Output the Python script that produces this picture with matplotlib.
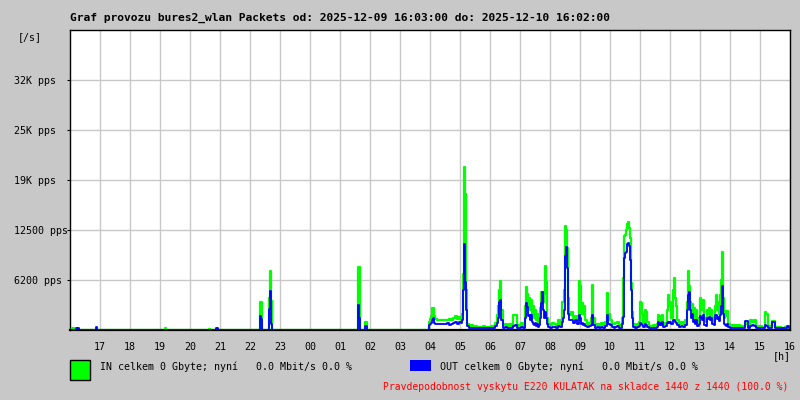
import matplotlib
matplotlib.use('Agg')
import matplotlib.pyplot as plt
import numpy as np

# time in minutes after 16:00, values in packets per second
minutes = [0, 4, 8, 12, 14, 16, 18, 52, 54, 190, 192, 278, 280, 292, 296,
           380, 382, 384, 398, 400, 402, 404, 576, 578, 580, 590, 594]
in_pps = [0, 250, 0, 0, 0, 100, 0, 150, 0, 300, 0, 150, 0, 100, 0,
          3500, 3500, 0, 4000, 7400, 3600, 0, 7900, 7900, 0, 1000, 0]
out_pps = [0, 0, 0, 200, 0, 250, 0, 400, 0, 0, 0, 0, 0, 250, 0,
           1800, 1400, 0, 2600, 4900, 700, 0, 3100, 1500, 0, 500, 0]

# busy part of the day, from about 04:00 on (x pixel, IN, OUT)
busy = [
    (429, 1000, 600), (430, 1400, 700), (431, 1800, 900), (432, 2800, 1300),
    (433, 2700, 1500), (434, 1800, 900), (435, 1400, 800), (437, 1300, 800),
    (439, 1200, 700), (441, 1300, 800), (443, 1200, 700), (445, 1300, 800),
    (447, 1200, 900), (449, 1400, 600), (451, 1300, 800), (453, 1500, 900),
    (455, 1700, 1000), (457, 1400, 800), (459, 1600, 1000), (461, 1300, 900),
    (462, 2000, 1200), (463, 7000, 5000), (464, 20400, 10700), (465, 17000, 6000),
    (466, 5000, 2500), (467, 800, 500), (469, 400, 200), (471, 600, 300),
    (473, 300, 200), (475, 500, 300), (477, 300, 200), (479, 400, 300),
    (481, 300, 200), (483, 500, 300), (485, 300, 200), (487, 400, 300),
    (489, 300, 200), (491, 500, 300), (493, 400, 300), (495, 900, 500),
    (497, 1900, 900), (498, 3000, 1500), (499, 5000, 3500), (500, 6100, 3800),
    (501, 2500, 1200), (503, 600, 300), (505, 800, 400), (507, 500, 300),
    (509, 700, 300), (511, 400, 200), (513, 1900, 500), (515, 1900, 600),
    (517, 500, 300), (519, 600, 300), (521, 900, 400), (523, 500, 300),
    (525, 3000, 1500), (526, 5400, 3400), (527, 4500, 2900), (528, 3000, 1800),
    (529, 4000, 1900), (530, 2500, 1200), (531, 3800, 1900), (532, 2000, 1000),
    (533, 3000, 800), (534, 1500, 600), (535, 2500, 900), (536, 1200, 500),
    (537, 2000, 700), (538, 900, 400), (539, 1500, 600), (540, 2800, 1500),
    (541, 4700, 3400), (542, 4800, 4700), (543, 3500, 2500), (544, 4500, 1500),
    (545, 8000, 2300), (546, 6000, 1500), (547, 1500, 700), (548, 800, 400),
    (550, 600, 300), (552, 900, 400), (554, 700, 400), (556, 500, 300),
    (558, 1300, 500), (560, 800, 400), (562, 3500, 1000), (563, 3500, 1500),
    (564, 5000, 2500), (565, 13000, 9200), (566, 12500, 10400), (567, 10200, 7700),
    (568, 4000, 2000), (569, 1900, 1200), (571, 2200, 1300), (573, 1500, 900),
    (575, 1800, 1200), (577, 1200, 700), (579, 6100, 1900), (580, 5500, 1500),
    (581, 2000, 800), (582, 3400, 900), (583, 2000, 600), (584, 3000, 700),
    (585, 1200, 500), (587, 700, 400), (589, 900, 500), (591, 1500, 600),
    (592, 5600, 1900), (593, 1500, 600), (595, 600, 300), (597, 800, 400),
    (599, 500, 300), (601, 900, 400), (603, 600, 300), (605, 1000, 500),
    (607, 4600, 1900), (608, 2000, 800), (610, 1200, 600), (612, 800, 400),
    (614, 700, 300), (615, 900, 400), (617, 1000, 500), (619, 500, 300),
    (621, 600, 300), (622, 1500, 800), (623, 6500, 1600), (624, 11800, 9000),
    (625, 11900, 9600), (626, 12500, 9800), (627, 13300, 10700), (628, 13500, 10900),
    (629, 12800, 10500), (630, 11500, 8800), (631, 5900, 5000), (632, 2200, 1500),
    (633, 800, 400), (635, 500, 300), (637, 700, 400), (639, 1000, 500),
    (640, 3500, 900), (641, 3400, 800), (642, 2000, 600), (643, 900, 400),
    (645, 2500, 700), (646, 2300, 600), (647, 1000, 400), (649, 500, 300),
    (651, 400, 200), (653, 600, 300), (655, 400, 200), (657, 800, 400),
    (658, 1900, 1000), (659, 1200, 600), (660, 1800, 900), (661, 1000, 600),
    (662, 1900, 1000), (663, 700, 400), (665, 900, 500), (667, 2500, 900),
    (668, 4400, 1000), (669, 3000, 900), (670, 3500, 1000), (671, 1500, 700),
    (673, 5000, 1300), (674, 6500, 1200), (675, 4000, 1000), (676, 3000, 900),
    (677, 1200, 600), (679, 800, 400), (681, 1000, 500), (683, 700, 400),
    (685, 1200, 600), (687, 3500, 2500), (688, 7400, 4400), (689, 5500, 4800),
    (690, 3500, 2500), (691, 2500, 1500), (692, 3200, 2000), (693, 1800, 1000),
    (694, 2800, 1300), (695, 1500, 800), (696, 2500, 1200), (697, 1000, 500),
    (699, 1500, 700), (700, 4000, 1800), (701, 3500, 1500), (702, 2500, 1200),
    (703, 3800, 1900), (704, 1500, 600), (706, 1000, 500), (707, 2500, 1500),
    (708, 2000, 1400), (709, 2700, 1600), (710, 1800, 1300), (711, 2500, 1500),
    (712, 1500, 800), (714, 1000, 600), (715, 3000, 1900), (716, 4400, 1900),
    (717, 2500, 1400), (718, 3500, 1600), (719, 2000, 1100), (720, 4400, 1900),
    (721, 6200, 3000), (722, 9800, 5500), (723, 4000, 2000), (724, 1500, 800),
    (725, 2400, 600), (726, 1800, 500), (727, 2400, 700), (728, 800, 400),
    (730, 600, 300), (732, 500, 300), (734, 600, 300), (736, 500, 300),
    (738, 600, 300), (740, 400, 200), (742, 500, 300), (745, 900, 1100),
    (746, 800, 1100), (748, 500, 300), (750, 1250, 500), (752, 1000, 600),
    (754, 1250, 500), (756, 500, 300), (758, 400, 200), (760, 500, 300),
    (762, 400, 200), (765, 2200, 600), (766, 2000, 500), (768, 400, 200),
    (770, 500, 300), (772, 1100, 1000), (773, 1100, 1000), (775, 400, 200),
    (777, 300, 200), (779, 400, 200), (781, 300, 200), (783, 300, 200),
    (785, 400, 200), (787, 300, 500), (789, 300, 200), (790, 300, 200),
]

y_ticks = [6250, 12500, 18750, 25000, 31250]
y_labels = ['6200 pps', '12500 pps', '19K pps', '25K pps', '32K pps']
hour_labels = ['17', '18', '19', '20', '21', '22', '23', '00', '01', '02', '03',
               '04', '05', '06', '07', '08', '09', '10', '11', '12', '13', '14',
               '15', '16']

title = ('Graf provozu bures2_wlan Packets od: 2025-12-09 16:03:00 '
         'do: 2025-12-10 16:02:00')
in_text = 'IN celkem 0 Gbyte; nyní   0.0 Mbit/s 0.0 %'
out_text = 'OUT celkem 0 Gbyte; nyní   0.0 Mbit/s 0.0 %'
note_text = 'Pravdepodobnost vyskytu E220 KULATAK na skladce 1440 z 1440 (100.0 %)'

for px, vi, vo in busy:
    minutes.append(2 * (px - 70))
    in_pps.append(vi)
    out_pps.append(vo)

t = np.array(minutes)
order = np.argsort(t, kind='stable')
t = t[order]
vin = np.array(in_pps)[order]
vout = np.array(out_pps)[order]

BG = '#c8c8c8'
MONO = 'DejaVu Sans Mono'

fig = plt.figure(figsize=(8, 4), dpi=100, facecolor=BG)
ax = fig.add_axes([70 / 800, 70 / 400, 720 / 800, 300 / 400])
ax.set_facecolor('white')

ax.step(t, vin, where='post', color='#00ff00', linewidth=1.6, zorder=3)
ax.step(t, vout, where='post', color='#0000ff', linewidth=1.3, zorder=4)

ax.set_xlim(0, 1440)
ax.set_ylim(0, 37500)

ax.set_xticks(np.arange(60, 1441, 60))
ax.set_xticklabels(hour_labels, fontsize=7.2, family=MONO)
ax.set_yticks(y_ticks)
ax.set_yticklabels(y_labels, fontsize=7.2, family=MONO)
for lab in ax.get_yticklabels():
    lab.set_horizontalalignment('left')
ax.tick_params(axis='x', length=0, pad=9)
ax.tick_params(axis='y', length=2, direction='out', pad=38.3)
ax.grid(True, color='#c8c8c8', linewidth=1.0, zorder=1)

for side in ['left', 'top', 'right']:
    ax.spines[side].set_color('black')
    ax.spines[side].set_linewidth(1.0)
ax.spines['bottom'].set_linewidth(1.6)

fig.text(70 / 800, 1 - 18 / 400, title, fontsize=8.1, family=MONO,
         fontweight='bold', va='center', ha='left')
fig.text(18 / 800, 1 - 37 / 400, '[/s]', fontsize=7.2, family=MONO,
         va='center', ha='left')
fig.text(773 / 800, 1 - 356 / 400, '[h]', fontsize=7.2, family=MONO,
         va='center', ha='left')

fig.patches.append(plt.Rectangle((70 / 800, 1 - 380 / 400), 20 / 800, 20 / 400,
                                 transform=fig.transFigure, facecolor='#00ff00',
                                 edgecolor='black', linewidth=1.0))
fig.text(100 / 800, 1 - 367 / 400, in_text, fontsize=7.2, family=MONO,
         va='center', ha='left')
fig.patches.append(plt.Rectangle((410 / 800, 1 - 371 / 400), 21 / 800, 11 / 400,
                                 transform=fig.transFigure, facecolor='#0000ff',
                                 edgecolor='none'))
fig.text(440 / 800, 1 - 367 / 400, out_text, fontsize=7.2, family=MONO,
         va='center', ha='left')
fig.text(788 / 800, 1 - 387 / 400, note_text, fontsize=7.0, family=MONO,
         color='#ff0000', va='center', ha='right')

fig.savefig('out.png', dpi=100, facecolor=BG)
